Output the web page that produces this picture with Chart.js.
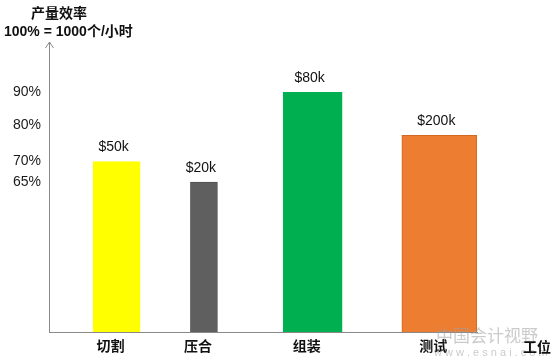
<!DOCTYPE html>
<html>
<head>
<meta charset="utf-8">
<script src="https://cdn.jsdelivr.net/npm/chart.js@4/dist/chart.umd.min.js"></script>
<style>
  html, body { margin: 0; padding: 0; background: #fff; }
  #wrap { width: 555px; height: 364px; position: relative; }
</style>
</head>
<body>
<div id="wrap"><canvas id="barChart"></canvas></div>
<script>
  // 공정별 생산효율 데이터
  const stations = ["切割", "压合", "组装", "测试"];
  const efficiency = [70, 65, 90, 77];
  const costLabels = ["$50k", "$20k", "$80k", "$200k"];
  const yTicks = [65, 70, 80, 90];
  const barColors = ["#FFFF00", "#5F5F5F", "#00B050", "#ED7D31"];
  const borderColors = ["#FFFF00", "#4F4F4F", "#00B050", "#D2691E"];

  // layout only: where each station sits on a 0-100 track, and bar widths
  const slotPos = [15.8, 36.2, 61.6, 91.2];
  const barWidths = [47, 27, 59, 75];

  const FONT = '"Liberation Sans", Arial, "Noto Sans CJK SC", sans-serif';

  const datasets = stations.map((name, i) => ({
    label: name,
    data: [{ x: slotPos[i], y: efficiency[i] }],
    backgroundColor: barColors[i],
    borderColor: borderColors[i],
    borderWidth: 1,
    barThickness: barWidths[i],
    grouped: false,
  }));

  const decorPlugin = {
    id: "decor",
    afterDatasetsDraw(chart) {
      const ctx = chart.ctx;
      const area = chart.chartArea;
      ctx.save();

      // arrow on y axis
      ctx.strokeStyle = "#8a8a8a";
      ctx.lineWidth = 1;
      ctx.beginPath();
      ctx.moveTo(area.left - 3.5, area.top + 6);
      ctx.lineTo(area.left + 0.5, area.top);
      ctx.lineTo(area.left + 4.5, area.top + 6);
      ctx.stroke();

      // 값 라벨
      ctx.fillStyle = "#111";
      ctx.font = "14px " + FONT;
      ctx.textAlign = "center";
      ctx.textBaseline = "middle";
      chart.data.datasets.forEach((ds, i) => {
        const bar = chart.getDatasetMeta(i).data[0];
        ctx.fillText(costLabels[i], bar.x - 3, bar.y - 14);
      });

      // 제목
      ctx.font = "bold 14px " + FONT;
      ctx.fillText("产量效率", 59, 14);
      ctx.textAlign = "left";
      ctx.fillText("100% = 1000个/小时", 4, 32);

      // watermark
      ctx.fillStyle = "rgba(160,160,160,0.55)";
      ctx.font = "17px " + FONT;
      ctx.fillText("中国会计视野", 436, 337);
      ctx.font = "11px " + FONT;
      ctx.fillText("w w w . e s n a i . c o m", 434, 353);

      // x axis title
      ctx.fillStyle = "#111";
      ctx.font = "bold 14px " + FONT;
      ctx.textAlign = "center";
      ctx.fillText("工位", 537, 348);
      ctx.restore();
    },
  };

  new Chart(document.querySelector("#barChart"), {
    type: "bar",
    data: { datasets: datasets },
    options: {
      responsive: true,
      maintainAspectRatio: false,
      animation: false,
      layout: { padding: { top: 42, right: 78, bottom: 0, left: 0 } },
      plugins: {
        legend: { display: false },
        tooltip: { enabled: false },
        title: { display: false },
      },
      scales: {
        x: {
          type: "linear",
          min: 0,
          max: 100,
          offset: false,
          grid: { display: false, drawTicks: false },
          border: { display: true, color: "#8a8a8a", width: 1 },
          afterBuildTicks: (s) => {
            s.ticks = slotPos.map((v) => ({ value: v }));
          },
          afterFit: (s) => {
            s.height = 32;
          },
          ticks: {
            autoSkip: false,
            maxRotation: 0,
            padding: 7,
            labelOffset: -6,
            color: "#111",
            font: { family: FONT, size: 14, weight: "bold" },
            callback: (v, idx) => stations[idx],
          },
        },
        y: {
          type: "logarithmic",
          min: 37.75,
          max: 108,
          grid: { display: false, drawTicks: false },
          border: { display: true, color: "#8a8a8a", width: 1 },
          afterBuildTicks: (s) => {
            s.ticks = yTicks.map((v) => ({ value: v }));
          },
          afterFit: (s) => {
            s.width = 49;
          },
          ticks: {
            autoSkip: false,
            padding: 8,
            color: "#1a1a1a",
            font: { family: FONT, size: 14 },
            callback: (v) => v + "%",
          },
        },
      },
    },
    plugins: [decorPlugin],
  });
</script>
</body>
</html>
